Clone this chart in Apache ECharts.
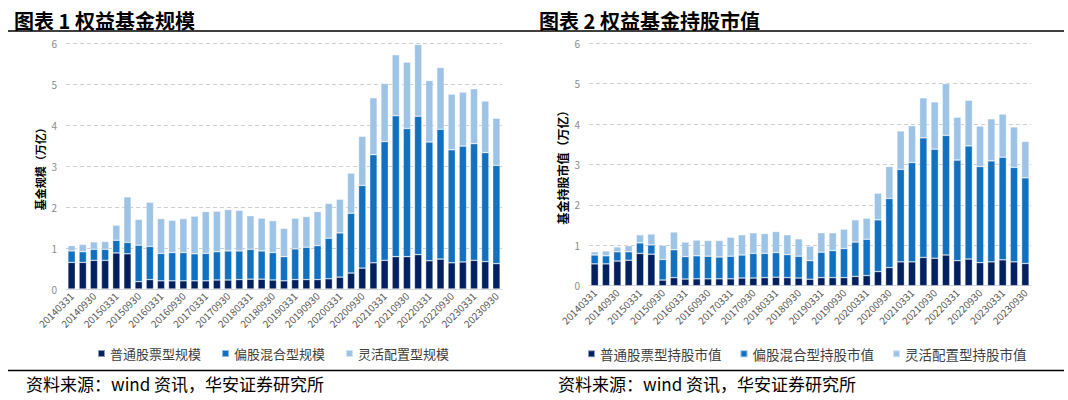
<!DOCTYPE html>
<html>
<head>
<meta charset="utf-8">
<script src="https://cdn.jsdelivr.net/npm/echarts@6/dist/echarts.min.js"></script>
<style>
html,body{margin:0;padding:0;background:#fff;}
#c{width:1068px;height:400px;}
</style>
</head>
<body>
<div id="c"></div>
<script>
var categories = ['20140331','20140630','20140930','20141231','20150331','20150630','20150930','20151231','20160331','20160630','20160930','20161231','20170331','20170630','20170930','20171231','20180331','20180630','20180930','20181231','20190331','20190630','20190930','20191231','20200331','20200630','20200930','20201231','20210331','20210630','20210930','20211231','20220331','20220630','20220930','20221231','20230331','20230630','20230930'];

// 图表1 权益基金规模（万亿）
var scaleStock = [0.65,0.65,0.70,0.70,0.88,0.86,0.18,0.23,0.20,0.20,0.20,0.20,0.20,0.22,0.22,0.23,0.24,0.24,0.22,0.20,0.23,0.23,0.23,0.25,0.29,0.39,0.51,0.64,0.70,0.79,0.79,0.84,0.69,0.73,0.64,0.66,0.70,0.67,0.62];
var scaleMixed = [0.28,0.26,0.27,0.27,0.31,0.28,0.89,0.81,0.67,0.69,0.69,0.66,0.67,0.69,0.71,0.70,0.73,0.69,0.67,0.59,0.75,0.79,0.83,0.99,1.08,1.46,2.02,2.64,2.90,3.44,3.13,3.38,2.90,3.17,2.76,2.83,2.85,2.66,2.40];
var scaleFlex  = [0.13,0.18,0.18,0.19,0.37,1.11,0.63,1.08,0.85,0.79,0.83,0.92,1.02,0.99,1.01,0.99,0.82,0.80,0.78,0.69,0.75,0.75,0.83,0.85,0.82,0.98,1.20,1.39,1.42,1.49,1.62,1.75,1.50,1.51,1.36,1.32,1.34,1.26,1.15];

// 图表2 权益基金持股市值（万亿）
var holdStock = [0.54,0.54,0.61,0.63,0.80,0.78,0.14,0.20,0.165,0.17,0.17,0.17,0.17,0.19,0.19,0.20,0.21,0.20,0.19,0.16,0.20,0.20,0.20,0.23,0.25,0.35,0.45,0.59,0.59,0.70,0.68,0.76,0.62,0.66,0.57,0.59,0.64,0.59,0.55];
var holdMixed = [0.22,0.20,0.23,0.21,0.26,0.23,0.51,0.69,0.555,0.57,0.56,0.54,0.56,0.57,0.61,0.60,0.61,0.57,0.54,0.46,0.63,0.67,0.72,0.85,0.90,1.28,1.71,2.29,2.46,2.96,2.70,2.96,2.49,2.80,2.38,2.50,2.54,2.34,2.12];
var holdFlex  = [0.08,0.12,0.12,0.15,0.20,0.27,0.35,0.44,0.36,0.39,0.39,0.41,0.47,0.50,0.51,0.49,0.52,0.49,0.43,0.36,0.48,0.44,0.48,0.55,0.52,0.66,0.79,0.95,0.91,0.99,1.17,1.28,1.06,1.13,1.00,1.04,1.07,1.00,0.90];

var yTicks = {min:0, max:6, interval:1};
var titles = ['图表 1 权益基金规模','图表 2 权益基金持股市值'];
var yNames = ['基金规模（万亿）','基金持股市值（万亿）'];
var names1 = ['普通股票型规模','偏股混合型规模','灵活配置型规模'];
var names2 = ['普通股票型持股市值','偏股混合型持股市值','灵活配置型持股市值'];
var source = '资料来源：wind 资讯，华安证券研究所';

var FONT = '"Noto Sans CJK SC","Noto Sans",sans-serif';
var COLORS = ['#002060','#1170C0','#9DC3E6'];

function xAxis(gi){
  return {
    type:'category', gridIndex:gi, data:categories,
    axisTick:{show:false},
    axisLine:{lineStyle:{color:'#d9d9d9',width:1}},
    axisLabel:{interval:1, rotate:45, fontSize:10, color:'#595959', margin:5, fontFamily:FONT}
  };
}
function yAxis(gi, name, nameSize){
  return {
    type:'value', gridIndex:gi, min:yTicks.min, max:yTicks.max, interval:yTicks.interval,
    name:name, nameLocation:'middle', nameRotate:90, nameGap:21,
    nameTextStyle:{fontSize:nameSize, fontWeight:'bold', color:'#000', fontFamily:FONT},
    axisLine:{show:false}, axisTick:{show:false},
    axisLabel:{fontSize:10, color:'#8c8c8c', margin:9, fontFamily:FONT},
    splitLine:{lineStyle:{type:[4,3], color:'#cfcfcf', width:1}}
  };
}
function bar(name, data, gi, ci, stack){
  return {
    name:name, type:'bar', stack:stack, xAxisIndex:gi, yAxisIndex:gi, data:data,
    barCategoryGap:'34%',
    itemStyle:{color:COLORS[ci], borderColor:'rgba(255,255,255,0.55)', borderWidth:0.6},
    emphasis:{disabled:true}
  };
}

var chart = echarts.init(document.getElementById('c'), null, {renderer:'svg'});
chart.setOption({
  animation:false,
  textStyle:{fontFamily:FONT},
  title:[
    {text:titles[0], left:9, top:5, textStyle:{fontSize:20, fontWeight:'bold', color:'#000', fontFamily:FONT}},
    {text:titles[1], left:534, top:5, textStyle:{fontSize:20, fontWeight:'bold', color:'#000', fontFamily:FONT}},
    {text:source, left:21, top:370, textStyle:{fontSize:17, fontWeight:'normal', color:'#000', fontFamily:FONT}},
    {text:source, left:553, top:370, textStyle:{fontSize:17, fontWeight:'normal', color:'#000', fontFamily:FONT}}
  ],
  graphic:[
    {type:'line', shape:{x1:8,y1:31,x2:1064,y2:31}, style:{stroke:'#000', lineWidth:1.5}},
    {type:'line', shape:{x1:8,y1:370.5,x2:1064,y2:370.5}, style:{stroke:'#000', lineWidth:1.5}}
  ],
  legend:[
    {data:names1, left:92, top:342, icon:'rect', itemWidth:7, itemHeight:7, itemGap:20,
     textStyle:{fontSize:13, color:'#404040', fontFamily:FONT}},
    {data:names2, left:582, top:342, icon:'rect', itemWidth:7, itemHeight:7, itemGap:18,
     textStyle:{fontSize:13.5, color:'#404040', fontFamily:FONT}}
  ],
  grid:[
    {left:66, right:566, top:43.3, bottom:111},
    {left:589, right:37, top:43.3, bottom:114.3}
  ],
  xAxis:[xAxis(0), xAxis(1)],
  yAxis:[yAxis(0, yNames[0], 11), yAxis(1, yNames[1], 12)],
  series:[
    bar(names1[0], scaleStock, 0, 0, 'a'),
    bar(names1[1], scaleMixed, 0, 1, 'a'),
    bar(names1[2], scaleFlex, 0, 2, 'a'),
    bar(names2[0], holdStock, 1, 0, 'b'),
    bar(names2[1], holdMixed, 1, 1, 'b'),
    bar(names2[2], holdFlex, 1, 2, 'b')
  ]
});
</script>
</body>
</html>
